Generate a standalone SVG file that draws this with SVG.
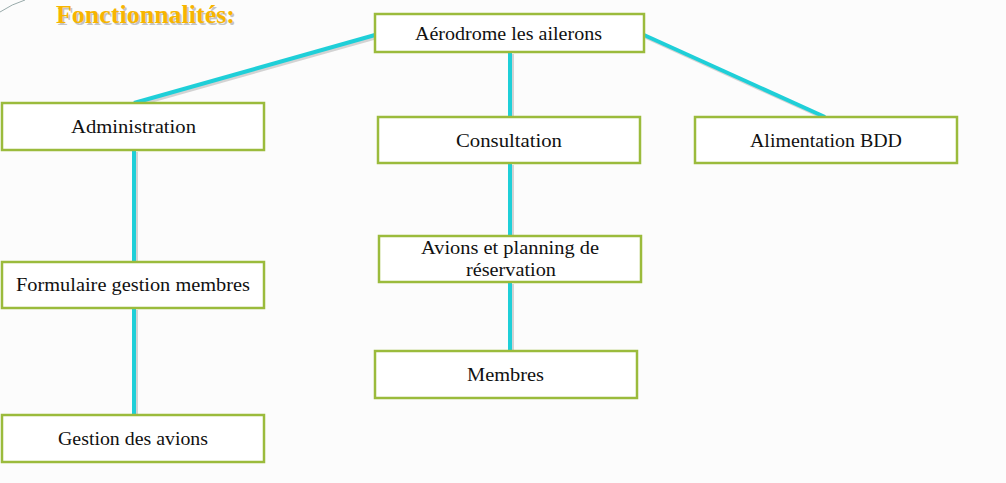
<svg xmlns="http://www.w3.org/2000/svg" width="1006" height="483" viewBox="0 0 1006 483">
<defs>
<style>
.box{fill:#ffffff;stroke:#9bbb3c;stroke-width:2.5}
.lbl{font-family:"Liberation Serif","DejaVu Serif",serif;font-size:19px;fill:#111;text-anchor:middle}
.ln{stroke:#1fcfd8;stroke-width:4;fill:none}
.sh{stroke:#b8b8b8;stroke-width:4;fill:none;opacity:0.6}
.ttl{font-family:"Liberation Serif",serif;font-size:25px;font-weight:bold}
</style>
</defs>
<rect width="1006" height="483" fill="#fcfcfc"/>
<path d="M0 12 Q12 4 25 0" stroke="#9aa" stroke-width="1" fill="none"/>
<text class="ttl" x="57.5" y="24.5" fill="#c4c4c4" textLength="179" lengthAdjust="spacingAndGlyphs">Fonctionnalités:</text>
<text class="ttl" x="56" y="23" fill="#f7b500" textLength="179" lengthAdjust="spacingAndGlyphs">Fonctionnalités:</text>
<g id="connectors">
<g transform="translate(2,2)">
<line class="sh" x1="375" y1="35" x2="134" y2="103"/>
<line class="sh" x1="644" y1="35" x2="825" y2="117"/>
<line class="sh" x1="510" y1="52" x2="510" y2="117"/>
<line class="sh" x1="134" y1="150" x2="134" y2="262"/>
<line class="sh" x1="134" y1="308" x2="134" y2="415"/>
<line class="sh" x1="510" y1="163" x2="510" y2="236"/>
<line class="sh" x1="510" y1="282" x2="510" y2="351"/>
</g>
<line class="ln" x1="375" y1="35" x2="134" y2="103"/>
<line class="ln" x1="644" y1="35" x2="825" y2="117"/>
<line class="ln" x1="510" y1="52" x2="510" y2="117"/>
<line class="ln" x1="134" y1="150" x2="134" y2="262"/>
<line class="ln" x1="134" y1="308" x2="134" y2="415"/>
<line class="ln" x1="510" y1="163" x2="510" y2="236"/>
<line class="ln" x1="510" y1="282" x2="510" y2="351"/>
</g>
<g id="n-aerodrome"><rect class="box" x="375" y="14" width="269" height="38"/><text class="lbl" x="508.5" y="40" textLength="187" lengthAdjust="spacingAndGlyphs">Aérodrome les ailerons</text></g>
<g id="n-admin"><rect class="box" x="2" y="103" width="262" height="47"/><text class="lbl" x="133.5" y="133" textLength="125" lengthAdjust="spacingAndGlyphs">Administration</text></g>
<g id="n-consult"><rect class="box" x="378" y="117" width="262" height="46"/><text class="lbl" x="509" y="147" textLength="106" lengthAdjust="spacingAndGlyphs">Consultation</text></g>
<g id="n-alim"><rect class="box" x="695" y="117" width="262" height="46"/><text class="lbl" x="826" y="147" textLength="152" lengthAdjust="spacingAndGlyphs">Alimentation BDD</text></g>
<g id="n-formulaire"><rect class="box" x="2" y="262" width="262" height="46"/><text class="lbl" x="133" y="291" textLength="234" lengthAdjust="spacingAndGlyphs">Formulaire gestion membres</text></g>
<g id="n-avions"><rect class="box" x="379" y="236" width="262" height="46"/><text class="lbl" x="510" y="254" textLength="178" lengthAdjust="spacingAndGlyphs">Avions et planning de</text><text class="lbl" x="511" y="276" textLength="90" lengthAdjust="spacingAndGlyphs">réservation</text></g>
<g id="n-membres"><rect class="box" x="375" y="351" width="262" height="47"/><text class="lbl" x="505.5" y="381" textLength="77" lengthAdjust="spacingAndGlyphs">Membres</text></g>
<g id="n-gestion"><rect class="box" x="2" y="415" width="262" height="47"/><text class="lbl" x="133" y="445" textLength="150" lengthAdjust="spacingAndGlyphs">Gestion des avions</text></g>
</svg>
